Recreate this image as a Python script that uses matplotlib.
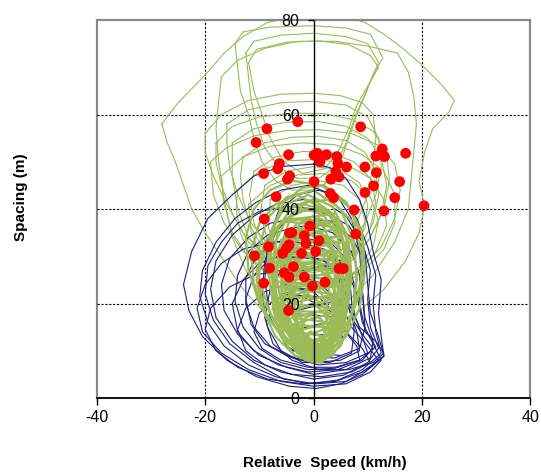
import matplotlib
matplotlib.use('Agg')
import matplotlib.pyplot as plt
from matplotlib.patches import Rectangle
import numpy as np

plt.rcParams['font.family'] = ['Liberation Sans', 'DejaVu Sans']
plt.rcParams['axes.unicode_minus'] = False

# ---- data (relative speed km/h, spacing m) ----

# large outer green loops (upper part of the chart)
green_outer = [
    [(-28, 58), (-25, 62.5), (-22, 66), (-19.5, 69), (-16.5, 73), (-13, 76.5), (-8.5, 79.5), (-2, 81), (5, 81),
     (9.5, 79.5), (13, 77), (16.5, 74), (20, 70.5), (23.5, 66.5), (26, 63), (25, 60.5), (22, 57), (20.5, 52),
     (19.5, 46), (20.5, 40.5), (19.5, 35), (17, 29), (13, 23), (8, 18), (2, 15), (-4, 15), (-9, 18), (-13, 23),
     (-16.5, 29), (-20, 35), (-22.5, 40), (-24, 45), (-25.5, 50), (-27, 54), (-28, 58)],
    [(-14.5, 75), (-13, 77.5), (-8, 78.5), (0, 78.8), (6, 78.3), (10.5, 77), (12.8, 72), (11, 68.5), (9.5, 64),
     (8, 60), (6.5, 55), (5, 50), (3, 46), (0, 44), (-4, 44), (-7, 46), (-9.5, 50), (-11, 55), (-12, 60),
     (-13.5, 65), (-14, 70), (-14.5, 75)],
    [(-12.5, 73), (-11, 75.5), (-6, 76.8), (0, 77.2), (6, 76.5), (10, 75), (12, 71), (10.5, 67), (9, 63),
     (7.5, 59), (6, 54), (4, 49), (1, 46.5), (-3, 46.5), (-6.5, 49), (-9, 53), (-10.5, 58), (-11.5, 63),
     (-12, 68), (-12.5, 73)],
    [(-12, 71), (-10.5, 73.8), (-5, 75.3), (1, 75.6), (6.5, 74.8), (10.5, 72.5), (12, 70), (10, 66), (8, 62),
     (6.5, 57), (4.5, 52), (2, 48.5), (-2, 47.5), (-5.5, 50), (-8, 55), (-9.5, 60), (-11, 65), (-12, 71)],
    [(-17, 68), (-14, 71.5), (-9, 74), (-3, 75.5), (4, 75.5), (10, 74.5), (15.5, 73), (17.5, 69), (18.5, 64),
     (19, 58), (18.5, 52), (18, 46), (17.5, 40), (15, 33), (11, 26), (6, 20), (1, 17), (-4, 17.5), (-9, 21),
     (-12.5, 27), (-15, 34), (-16.5, 42), (-17.5, 50), (-18, 57), (-17.5, 63), (-17, 68)],
    [(-20, 56), (-17, 60), (-12, 63), (-6, 64.3), (0, 64.5), (5, 64), (9, 62.5), (11, 60), (11.5, 55), (11, 49),
     (10, 43), (8, 37), (5, 31), (1, 27), (-4, 27), (-9, 30), (-13, 35), (-16, 41), (-18.5, 47), (-20, 52),
     (-20, 56)],
    [(-16, 58), (-12, 61), (-6, 62.5), (0, 62.8), (6, 62), (10, 59.5), (12, 55), (12.5, 49), (11.5, 43),
     (9.5, 37), (6, 32), (2, 29), (-3, 29), (-8, 32), (-11.5, 37), (-14, 43), (-15.5, 49), (-16, 54), (-16, 58)],
]

# middle green loops (arcs between 45 and 60 m)
green_mid = [
    [(-18, 54), (-15, 57.5), (-10, 59.5), (-4, 60.3), (2, 60.2), (7, 59), (11, 56.5), (13.5, 52), (14, 46),
     (13, 40), (10.5, 34), (7, 29), (2, 26), (-3, 26), (-8, 28.5), (-12, 33), (-15, 39), (-17, 45), (-18, 50),
     (-18, 54)],
    [(-15, 54), (-11, 57), (-5, 58.4), (1, 58.5), (6, 57.5), (10, 55), (12.5, 51), (13.5, 45), (12.5, 39),
     (10, 33), (6, 28.5), (1, 26), (-4, 26.5), (-8.5, 29.5), (-12, 34), (-14, 40), (-15, 47), (-15, 54)],
    [(-19, 50), (-16, 53), (-11, 55.5), (-5, 56.6), (1, 56.8), (7, 56), (12, 53.5), (15, 49.5), (16, 44),
     (15, 38), (12.5, 32), (8.5, 27), (3, 24), (-3, 24), (-8.5, 26.5), (-13, 31), (-16.5, 37), (-18.5, 43),
     (-19, 50)],
    [(-13, 51), (-9, 54), (-4, 55.2), (1, 55.4), (6, 54.5), (9.5, 52), (11.5, 48), (12, 43), (11, 37),
     (8.5, 32), (5, 28), (0, 26.5), (-5, 27.5), (-9, 31), (-11.5, 36), (-13, 42), (-13.5, 47), (-13, 51)],
    [(-17, 47), (-13, 51), (-8, 53.3), (-2, 54), (4, 53.6), (9, 51.5), (13, 48), (15, 43), (15, 37), (13, 31.5),
     (9, 26.5), (4, 23.5), (-2, 23), (-7, 25), (-11.5, 29), (-15, 35), (-16.5, 41), (-17, 47)],
    [(-11, 48), (-7, 51), (-2, 52.2), (3, 52), (7.5, 50), (10.5, 46.5), (11.5, 41.5), (10.5, 36), (8, 31),
     (4, 28), (-1, 27), (-5.5, 28.5), (-9, 32), (-11, 37), (-11.8, 43), (-11, 48)],
    [(-14, 44), (-10, 48), (-5, 50.2), (1, 50.5), (6, 49.5), (10.5, 46.5), (13, 42), (13.5, 36.5), (11.5, 31),
     (8, 26.5), (3, 23.5), (-2.5, 23), (-7.5, 25), (-11.5, 29.5), (-13.5, 35), (-14.3, 40), (-14, 44)],
    [(-9, 45), (-5, 48), (0, 49), (5, 48.3), (8.5, 45.5), (10, 41), (9.5, 36), (7, 31), (3, 28), (-1.5, 27.5),
     (-5.5, 29.5), (-8.5, 33.5), (-9.8, 39), (-9, 45)],
    [(-12, 41), (-8, 45), (-3, 47.2), (2, 47.5), (7, 46), (10.5, 42.5), (12, 37.5), (11, 32), (8, 27),
     (3.5, 24), (-1.5, 23.5), (-6, 25.5), (-9.5, 29.5), (-11.5, 35), (-12, 41)],
    [(-8, 42), (-4, 45), (1, 46), (5.5, 45), (8.5, 42), (9.5, 37.5), (8.5, 33), (5.5, 29), (1, 27.5), (-3, 28),
     (-6.5, 31), (-8.3, 36), (-8, 42)],
]

# blue loops (lower, wider spirals)
blue_loops = [
    [(0, 49.5), (-6, 49), (-11, 47), (-15, 43), (-19.5, 38), (-22.5, 31), (-24, 24), (-23, 18.5), (-20.5, 13),
     (-16, 8), (-10.5, 4.5), (-4.5, 2.5), (0.5, 2), (5, 3), (9, 5), (13, 8.8), (12.5, 13), (12, 18), (12.5, 25),
     (11, 31), (10, 37), (8.5, 42), (6, 46.5), (3, 48.8), (0, 49.5)],
    [(-1, 45), (-6, 44), (-10.5, 41.5), (-14.5, 38), (-18, 33), (-20.5, 27), (-21, 21.5), (-19.5, 16),
     (-16.5, 11), (-12, 7), (-7, 4.5), (-1, 3), (4.5, 3.8), (9, 6), (12.5, 9.5), (11.5, 14), (11, 20),
     (11.5, 26), (10, 32), (8, 38), (5, 42.5), (-1, 45)],
    [(-2, 42), (-7, 41), (-11, 38.5), (-15, 34.5), (-18, 29), (-19, 23), (-18, 17), (-15, 12), (-11, 8),
     (-6, 5.5), (0, 4), (5.5, 4.8), (10, 7.5), (12, 10.5), (10.5, 15), (10, 21), (10.5, 27), (9, 33), (6, 38.5),
     (2, 41.5), (-2, 42)],
    [(-3, 38), (-8, 37), (-12, 34), (-15.5, 29.5), (-17, 24), (-16.5, 18.5), (-14, 13.5), (-10, 9), (-5, 6.5),
     (0, 5), (6, 6), (10.5, 8.5), (11, 12), (9.5, 17), (9, 23), (9.5, 29), (7, 34), (3, 37.5), (-3, 38)],
    [(-4, 36), (-8.5, 34.5), (-12, 31), (-14, 26), (-14.5, 20.5), (-13, 15), (-10, 10.5), (-6, 7.5), (-1, 6),
     (4, 6.3), (8.5, 8), (11.5, 10.8), (9.5, 14.5), (8.5, 20), (8.5, 26), (7, 31), (3.5, 35), (-1, 36.5),
     (-4, 36)],
    [(-2, 34), (-7, 33), (-10.5, 30), (-12.5, 25.5), (-12.5, 20), (-11, 15), (-8, 11), (-4, 8.5), (1, 7),
     (6, 7.5), (10, 9.5), (9, 13), (7.5, 18), (7.5, 24), (6.5, 29), (3.5, 32.5), (-2, 34)],
    [(-5, 40.5), (-10, 39.5), (-14, 37), (-17, 33), (-19.5, 28), (-20, 22), (-18.5, 16.5), (-15.5, 11.5),
     (-11, 7.5), (-5.5, 4), (0.5, 3), (6, 3.5), (10.5, 6.5), (13, 9), (12, 13), (10.5, 18), (10, 24), (9.5, 31),
     (6.5, 36.5), (1, 40), (-5, 40.5)],
    [(-6, 30), (-10, 28.5), (-13, 25), (-15, 20), (-14, 14), (-11, 10), (-6.5, 7), (-1, 5.5), (4.5, 6), (9, 8),
     (11, 10.5), (9, 13.5), (7, 17), (6, 22), (4, 26.5), (0, 29.5), (-6, 30)],
    [(-3, 31), (-8, 29.5), (-11, 26), (-12.5, 21), (-11.5, 15.5), (-9, 11.5), (-5, 9), (0, 7.5), (5, 8),
     (8.5, 10), (8, 14), (6.5, 19), (5.5, 24), (3, 28.5), (-3, 31)],
    [(-6, 27), (-11, 26), (-15.5, 23.5), (-19, 19), (-20, 14.5), (-18, 10), (-14, 6.5), (-8.5, 4), (-2, 3),
     (4, 3.5), (9, 5.5), (12, 8), (10, 11), (7, 15), (5, 20), (1, 24.5), (-6, 27)],
    [(-5, 24), (-9, 22.5), (-12.5, 19), (-14, 14.5), (-12.5, 10), (-9, 7), (-4, 5), (1.5, 4.5), (7, 5.5),
     (10.5, 7.5), (9, 10.5), (6, 14), (3.5, 18.5), (0, 22.5), (-5, 24)],
    [(-3, 22), (-7, 21), (-10, 18), (-11, 14), (-9.5, 10.5), (-6, 8), (-1, 6.5), (4, 6.5), (8.5, 8), (8, 11),
     (5.5, 14.5), (3, 18.5), (-3, 22)],
    [(0, 40), (-4, 39), (-7, 35), (-9, 29), (-9.5, 22), (-8.5, 15), (-6, 10), (-2, 7.5), (3, 7.5), (7, 9.5),
     (7.5, 14), (7, 21), (6.5, 28), (5, 34), (3, 38.5), (0, 40)],
    [(1, 44), (-3, 43), (-6.5, 39.5), (-8.5, 33), (-9, 25), (-8, 17), (-5, 11), (-1, 8.5), (4, 8.5), (8.5, 10.5),
     (9.5, 15), (9, 23), (8.5, 31), (7, 38), (4.5, 42.5), (1, 44)],
    [(-1, 30), (-5.5, 28), (-8, 23), (-9, 17), (-7.5, 11.5), (-4, 8), (1, 6), (6.5, 6), (11, 7.5), (13, 9.5),
     (11.5, 12), (8.5, 15), (6.5, 20), (4.5, 25.5), (2, 29), (-1, 30)],
    [(-8, 33), (-13, 31.5), (-17, 28.5), (-20, 24), (-21.5, 19), (-20.5, 14), (-17, 9.5), (-12, 6), (-6, 3.5),
     (0, 2.5), (6, 3), (10.5, 5.5), (12.5, 8), (11, 11.5), (9, 16), (8, 22), (6, 27.5), (2, 31.5), (-3, 33),
     (-8, 33)],
    # back-and-forth trace hidden inside the green core
    [(-6, 30), (6, 29), (-6, 26), (6, 25), (-6, 22), (6, 21), (-5, 18), (6, 17), (-5, 14), (6, 13), (-4, 10),
     (5, 9)],
]

# dense green core loops
green_core = [
    [(0, 42), (-4, 40.5), (-6.5, 36), (-7.5, 29), (-7, 21), (-5, 14), (-2, 9.5), (1, 8.5), (3.5, 11), (5, 17),
     (6, 25), (5.5, 33), (3.5, 39), (0, 42)],
    [(-1, 40), (-5, 38), (-7, 33), (-7.5, 26), (-6.5, 18), (-4, 12), (-1, 9), (2, 9), (4, 13), (5, 19),
     (5.5, 27), (4.5, 34), (2, 38.5), (-1, 40)],
    [(1, 38), (-3, 37), (-6, 33), (-7, 27), (-6, 20), (-4, 14), (-1, 10.5), (2.5, 10), (5, 14), (6, 20),
     (6.5, 27), (5.5, 33), (3.5, 37), (1, 38)],
    [(0, 44), (-5, 42.5), (-8.5, 38), (-10, 32), (-10, 25), (-8, 18), (-5, 12), (-1.5, 8.5), (2, 8), (5, 11),
     (7, 17), (8, 25), (7.5, 33), (5, 40), (0, 44)],
    [(-2, 36), (-5.5, 34), (-7.5, 29), (-7.5, 22), (-6, 15.5), (-3, 11), (0.5, 10), (3.5, 12.5), (5, 18),
     (5, 25), (4, 31), (1.5, 35), (-2, 36)],
    [(0, 33), (-3.5, 31.5), (-5.5, 27), (-6, 21), (-5, 15), (-2.5, 11), (0.5, 10), (3, 12), (4.5, 17),
     (4.5, 23), (3.5, 29), (0, 33)],
    [(-1, 30), (-4.5, 28.5), (-6, 24), (-5.5, 18), (-3.5, 13), (-0.5, 10.5), (2.5, 11.5), (4, 16), (4, 22),
     (2.5, 27), (-1, 30)],
    [(1, 40), (-3, 39.5), (-6.5, 36.5), (-9, 31), (-10.5, 25), (-9.5, 19), (-7, 13), (-3.5, 9), (0.5, 7.5),
     (3.5, 9), (6, 13.5), (7.5, 20), (8, 27), (7, 33), (4.5, 38), (1, 40)],
    [(-3, 43), (-7, 41), (-10, 37), (-11.5, 31), (-11, 24), (-8.5, 17), (-5, 12), (-1, 9), (2, 9.5), (4.5, 13),
     (6, 19), (7, 26), (6.5, 33), (3.5, 39), (-3, 43)],
    [(2, 45), (-2, 44.5), (-5.5, 41.5), (-7.5, 36), (-8, 29), (-7, 21), (-4.5, 14), (-1, 10), (2.5, 9.5),
     (6, 13), (8.5, 19), (9.5, 27), (9, 35), (6, 41.5), (2, 45)],
    [(0, 25), (-3, 24), (-4.5, 20), (-4.5, 15), (-3, 11), (-0.5, 8.5), (2, 8.5), (3.5, 11.5), (4, 16),
     (3.5, 21), (0, 25)],
    [(-1, 22), (-4, 20.5), (-5, 16), (-4, 11.5), (-1.5, 8), (1.5, 7.5), (3.5, 10), (3.5, 15), (2, 19.5),
     (-1, 22)],
    [(1, 35), (-2.5, 34.5), (-5, 31), (-6, 26), (-5.5, 20), (-3.5, 14), (-0.5, 11), (3, 11.5), (5.5, 15),
     (6.5, 21), (6, 28), (4, 33), (1, 35)],
    [(-2, 38), (-6, 37), (-9, 33), (-10.5, 27), (-9.5, 21), (-7, 16), (-3.5, 12.5), (0, 11.5), (3, 13.5),
     (4.5, 19), (4.5, 26), (3, 32), (0.5, 36.5), (-2, 38)],
    [(3, 42), (-1, 41.5), (-4, 39), (-5.5, 34), (-6, 28), (-5, 21), (-3, 15), (0, 12), (3.5, 12.5), (6.5, 16),
     (8.5, 22), (9, 30), (7.5, 37), (3, 42)],
    [(0, 28), (-3, 27), (-5, 23.5), (-5.5, 18.5), (-4, 13.5), (-1.5, 10), (1.5, 9.5), (3.5, 12), (4.5, 17),
     (4, 22.5), (2.5, 26), (0, 28)],
    [(-4, 46), (-8, 44), (-11, 40), (-12.5, 34), (-12, 27), (-10, 20), (-6.5, 14), (-2.5, 10.5), (1.5, 10),
     (5, 13), (7.5, 19), (9, 26), (9, 34), (6.5, 40.5), (1.5, 45), (-4, 46)],
    [(0, 38.5), (-2.5, 37), (-4, 33), (-4.5, 27), (-4, 20), (-2.5, 14), (0, 11.5), (2.5, 13), (3.5, 18),
     (4, 25), (3.5, 31), (2, 36), (0, 38.5)],
    [(-2, 41), (-6, 39.5), (-8, 35), (-8.5, 28), (-7.5, 20), (-5.5, 13.5), (-3, 9.5), (0, 8), (3, 9), (5.5, 14),
     (6.5, 21), (6.5, 29), (5, 35.5), (2, 40), (-2, 41)],
    [(1, 31), (-2.5, 30), (-4, 26), (-4, 20), (-3, 14), (-1, 10), (1.5, 9), (3.5, 11.5), (5, 16), (5, 22),
     (4, 27), (1, 31)],
    [(-1, 35), (-4.5, 33.5), (-6.5, 29), (-7, 23), (-6, 16.5), (-3.5, 11), (-0.5, 8), (2.5, 8.5), (4.5, 12),
     (5.5, 18), (5.5, 25), (4, 31), (-1, 35)],
    [(2, 37), (-1.5, 36.5), (-4, 33.5), (-5, 28), (-4.5, 21), (-3, 15), (-1, 11), (2, 10), (4.5, 13), (6, 18),
     (7, 25), (6.5, 31), (4.5, 35), (2, 37)],
    [(-3, 32), (-6, 30), (-7.5, 25.5), (-7.5, 19), (-6, 13), (-3.5, 9), (0, 7.5), (2.5, 9), (3.5, 13),
     (3.5, 19), (2.5, 25), (0, 30), (-3, 32)],
    [(0, 20), (-2.5, 19), (-3.5, 15.5), (-3, 11.5), (-1, 8.5), (1.5, 8), (3, 10.5), (3, 14.5), (2, 18), (0, 20)],
    [(-1, 43), (-5, 41), (-7, 37), (-8, 31), (-7.5, 24), (-5.5, 17), (-3, 12), (0, 10), (3, 11), (5, 15),
     (6, 21), (6.5, 28), (6, 35), (3.5, 40.5), (-1, 43)],
    [(1, 29), (-2, 28), (-3.5, 24.5), (-3.5, 19), (-2.5, 14), (0, 11), (2.5, 11), (4, 14.5), (4.5, 20),
     (3.5, 25), (1, 29)],
    [(0, 18), (-1.5, 17), (-2.2, 14), (-1.5, 11), (0, 9.5), (1.5, 10), (2.2, 13), (1.5, 16.5), (0, 18)],
    [(0.5, 24), (-1.5, 23), (-2.5, 19), (-2, 14), (-0.5, 11), (1.5, 11.5), (2.5, 15), (2.5, 20), (0.5, 24)],
    [(-0.5, 14), (-2, 13), (-2.5, 10.5), (-1, 8.5), (1, 8.5), (2, 10.5), (1.5, 13), (-0.5, 14)],
    [(-4, 38), (3, 37), (-5, 35), (4, 34), (-5.5, 32), (4.5, 31), (-6, 29), (5, 28), (-5.5, 26), (4.5, 25),
     (-5, 23), (4, 22), (-4.5, 20), (3.5, 19), (-4, 17), (3, 16), (-3.5, 14), (2.5, 13), (-3, 11.5), (2, 10.5),
     (-1, 9)],
    [(-3, 40), (4, 39), (-6, 37.5), (5, 36), (-6, 33.5), (5.5, 33), (-6.5, 30.5), (5, 30), (-6, 27.5),
     (5.5, 27), (-5.5, 24.5), (4.5, 24), (-5, 21.5), (4, 21), (-4.5, 18.5), (3.5, 18), (-4, 15.5), (3, 15),
     (-3, 12.5), (2.5, 12), (-2, 10), (1, 9)],
]

# red markers
dots_x = [-2.9, -8.6, -10.6, 8.7, -4.6, 0.1, 0.7, 1.2, 2.4, 4.3, 4.5, 6.1, -6.3, -6.6, -9.2, -4.4, -4.8,
          3.2, 4.7, 4.1, 0.1, 9.5, 12.7, 11.5, 13.1, 17.0, 11.6, 11.1, 15.9, 9.5, 15.0, 3.1, 3.7, -6.9,
          20.4, 13.0, 7.5, -9.1, -0.7, -4.4, -4.0, -1.7, -1.4, 1.0, 7.8, -8.3, -4.5, -5.0, -5.7, -10.9,
          -2.2, 0.4, -8.1, -3.7, -5.4, -4.5, -1.7, 4.7, 5.5, 2.1, -0.2, -9.2, -4.6]
dots_y = [58.5, 57.0, 54.1, 57.4, 51.5, 51.4, 51.8, 50.0, 51.5, 51.1, 49.6, 48.9, 49.6, 48.5, 47.5, 47.0,
          46.3, 46.3, 46.8, 47.9, 45.8, 48.9, 52.7, 51.2, 51.1, 51.8, 47.7, 44.9, 45.8, 43.5, 42.4, 43.3,
          42.4, 42.6, 40.7, 39.6, 39.8, 37.9, 36.4, 34.9, 35.0, 34.4, 32.7, 33.3, 34.7, 32.0, 32.4, 31.7,
          30.6, 30.1, 30.6, 31.0, 27.5, 27.8, 26.5, 25.6, 25.6, 27.4, 27.4, 24.5, 23.7, 24.3, 18.5]

x_ticks = [-40, -20, 0, 20, 40]
y_ticks = [0, 20, 40, 60, 80]

GREEN = '#9bbb59'
BLUE = '#1c1c82'
RED = '#ff0000'

fig = plt.figure(figsize=(5.41, 4.73), dpi=100)
ax = fig.add_axes([0.179, 0.1586, 0.801, 0.799])
ax.set_xlim(-40, 40)
ax.set_ylim(0, 80)

# dashed grid, only inner lines
for gx in [-20, 20]:
    ax.axvline(gx, color='black', linestyle=(0, (2, 1.5)), linewidth=0.8, zorder=0.6)
for gy in [20, 40, 60]:
    ax.axhline(gy, color='black', linestyle=(0, (2, 1.5)), linewidth=0.8, zorder=0.6)

for tr in green_outer + green_mid:
    pts = np.array(tr)
    ax.plot(pts[:, 0], pts[:, 1], color=GREEN, linewidth=0.8, zorder=2)
for tr in blue_loops:
    pts = np.array(tr)
    ax.plot(pts[:, 0], pts[:, 1], color=BLUE, linewidth=0.8, zorder=2.1)
for tr in green_core:
    pts = np.array(tr)
    ax.plot(pts[:, 0], pts[:, 1], color=GREEN, linewidth=1.6, zorder=2.2)

ax.scatter(dots_x, dots_y, s=60, color=RED, edgecolors='none', zorder=3)

# frame: grey box, black axes crossing at x=0 / y=0
for side in ['top', 'right']:
    ax.spines[side].set_color('#888888')
    ax.spines[side].set_linewidth(1.5)
ax.spines['left'].set_position(('data', 0))
ax.spines['left'].set_color('black')
ax.spines['left'].set_linewidth(1.0)
ax.spines['bottom'].set_color('black')
ax.spines['bottom'].set_linewidth(1.2)
ax.add_patch(Rectangle((0, 0), 1, 1, transform=ax.transAxes, fill=False,
                       edgecolor='#888888', linewidth=1.5, zorder=0.5, clip_on=False))

ax.set_xticks(x_ticks)
ax.set_yticks(y_ticks)
ax.tick_params(axis='x', direction='out', length=5, width=1, pad=4, labelsize=11.5)
ax.tick_params(axis='y', direction='out', length=4, width=1, pad=6, labelsize=11.5)
ax.yaxis.set_zorder(2.5)
ax.xaxis.set_zorder(2.5)

fig.text(325 / 541, 1 - 463 / 473, 'Relative  Speed (km/h)', ha='center', va='center',
         fontsize=11, fontweight='bold')
fig.text(21 / 541, 1 - 197 / 473, 'Spacing (m)', ha='center', va='center', rotation=90,
         fontsize=11, fontweight='bold')

plt.savefig('out.png', dpi=100)
plt.close()
